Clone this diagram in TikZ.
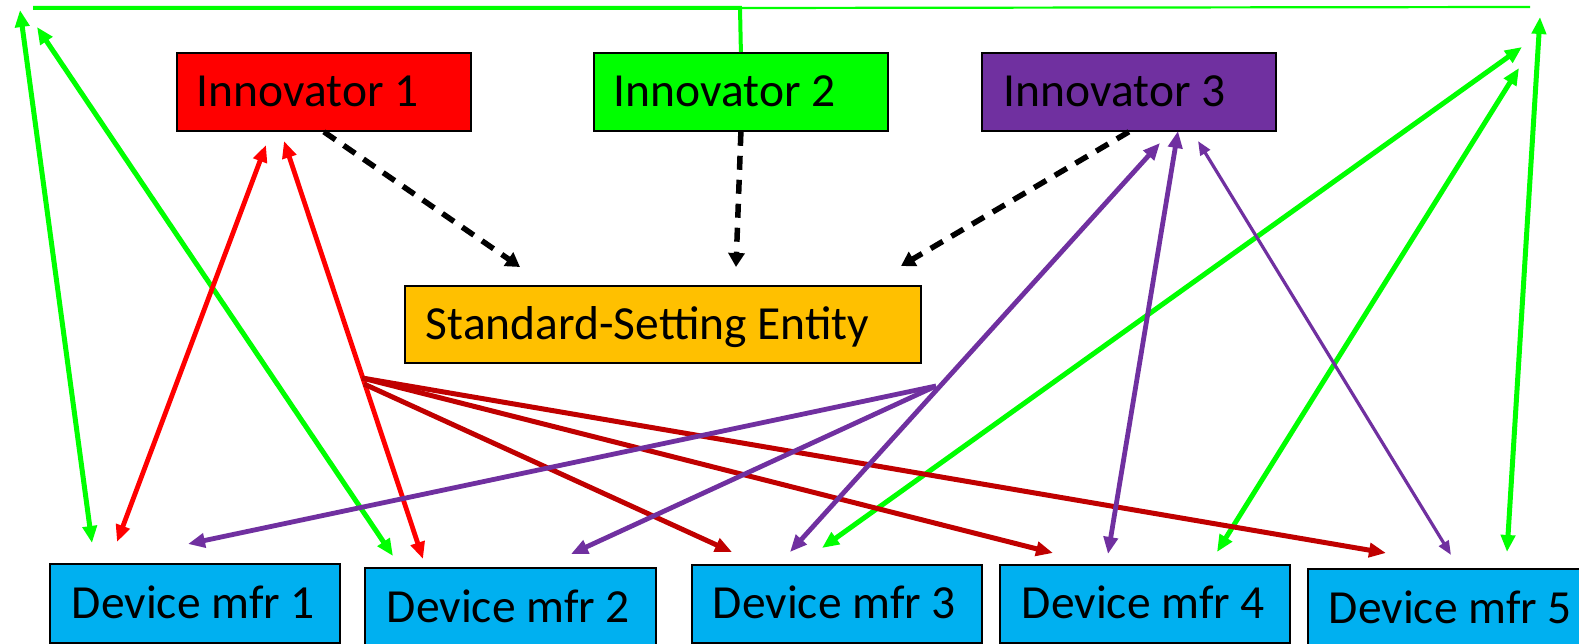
\documentclass[tikz,border=0pt]{standalone}
\usepackage{fontspec}
\setmainfont{Carlito}
\usetikzlibrary{arrows.meta}
\definecolor{pgreen}{HTML}{00FF00}
\definecolor{pred}{HTML}{FF0000}
\definecolor{dred}{HTML}{C00000}
\definecolor{purp}{HTML}{7030A0}
\definecolor{gold}{HTML}{FFC000}
\definecolor{sky}{HTML}{00B0F0}
\newcommand{\boxtext}[2]{\makebox[#1][l]{#2}}
\begin{document}
\begin{tikzpicture}[x=1pt,y=-1pt,
  box/.style={draw=black, line width=1.8pt, anchor=north west, inner ysep=0pt,
    text height=30pt, text depth=0pt, font=\fontsize{47.5}{56}\selectfont},
  both/.style={{Triangle[length=17pt,width=14pt]}-{Triangle[length=17pt,width=14pt]}},
  boththin/.style={{Triangle[length=14pt,width=11pt]}-{Triangle[length=14pt,width=11pt]}},
  one/.style={-{Triangle[length=17pt,width=14pt]}},
  gline/.style={pgreen, line width=5pt},
  rline/.style={pred, line width=4.8pt},
  drline/.style={dred, line width=5pt},
  pline/.style={purp, line width=4.8pt},
  dashline/.style={black, line width=5.5pt, dash pattern=on 14pt off 10pt,
    -{Triangle[length=14pt,width=16pt]}}
]
\clip (0,0) rectangle (1579,644);
\fill[white] (0,0) rectangle (1579,644);

% innovators
\node[box, fill=pred, inner xsep=20pt, minimum height=78pt] (i1) at (176,52) {\boxtext{254pt}{Innovator 1}};
\node[box, fill=pgreen, inner xsep=20pt, minimum height=78pt] (i2) at (593,52) {\boxtext{254pt}{Innovator 2}};
\node[box, fill=purp, inner xsep=22pt, minimum height=78pt] (i3) at (981,52) {\boxtext{250pt}{Innovator 3}};

% standard-setting entity
\node[box, fill=gold, inner xsep=21pt, minimum height=77pt] (sse) at (404,285) {\boxtext{474pt}{Standard-Setting Entity}};

% device manufacturers
\node[box, fill=sky, inner xsep=22pt, minimum height=79pt] (dm1) at (49,563) {\boxtext{246pt}{Device mfr 1}};
\node[box, fill=sky, inner xsep=22pt, minimum height=79pt] (dm2) at (364,567) {\boxtext{247pt}{Device mfr 2}};
\node[box, fill=sky, inner xsep=21pt, minimum height=78pt] (dm3) at (691,564) {\boxtext{248pt}{Device mfr 3}};
\node[box, fill=sky, inner xsep=22pt, minimum height=78pt] (dm4) at (999,564) {\boxtext{246pt}{Device mfr 4}};
\node[box, fill=sky, inner xsep=21pt, minimum height=80pt] (dm5) at (1307,568) {\boxtext{280pt}{Device mfr 5}};

% connector end points
\coordinate (gL) at (33,8);
\coordinate (gM) at (740,8);
\coordinate (gR) at (1530,7);
\coordinate (gAt) at (20,10);    \coordinate (gAb) at (92,543);
\coordinate (gBt) at (37,27);    \coordinate (gBb) at (393,556);
\coordinate (gCt) at (1540,17);  \coordinate (gCb) at (1507,552);
\coordinate (gDt) at (1522,47);  \coordinate (gDb) at (822,548);
\coordinate (gEt) at (1519,68);  \coordinate (gEb) at (1217,552);
\coordinate (r1t) at (266,145);  \coordinate (r1b) at (117,542);
\coordinate (r2t) at (284,141);  \coordinate (r2b) at (423,559);
\coordinate (rh) at (362,378);   \coordinate (rh2) at (364,384);
\coordinate (r3b) at (732,552);  \coordinate (r4b) at (1053,553);
\coordinate (r5b) at (1386,553);
\coordinate (p3t) at (1160,143); \coordinate (p3b) at (790,552);
\coordinate (p4t) at (1178,131); \coordinate (p4b) at (1108,554);
\coordinate (p5t) at (1198,141); \coordinate (p5b) at (1451,555);
\coordinate (ph) at (936,386);
\coordinate (p1b) at (188,544);  \coordinate (p2b) at (571,554);
\coordinate (s1) at (520,267);   \coordinate (s2) at (736,267);
\coordinate (s3) at (901,266);

% green links of innovator 2
\draw[gline, line width=4pt] (gL) -- (gM) -- (i2.north);
\draw[pgreen, line width=2.2pt] (gM) -- (gR);
\draw[gline, both] (gAt) -- (gAb);
\draw[gline, both] (gBt) -- (gBb);
\draw[gline, both] (gCt) -- (gCb);
\draw[gline, both] (gDt) -- (gDb);
\draw[gline, both] (gEt) -- (gEb);

% red links of innovator 1
\draw[rline, both] (r1t) -- (r1b);
\draw[rline, both] (r2t) -- (r2b);
\draw[drline, one] (rh2) -- (r3b);
\draw[drline, one] (rh) -- (r4b);
\draw[drline, one] (rh) -- (r5b);

% purple links of innovator 3
\draw[pline, both] (p3t) -- (p3b);
\draw[pline, both] (p4t) -- (p4b);
\draw[purp, line width=3.2pt, boththin] (p5t) -- (p5b);
\draw[pline, one] (ph) -- (p1b);
\draw[pline, one] (ph) -- (p2b);

% dashed links to the standard-setting entity
\draw[dashline] (i1.south) -- (s1);
\draw[dashline] (i2.south) -- (s2);
\draw[dashline] (i3.south) -- (s3);
\end{tikzpicture}
\end{document}
